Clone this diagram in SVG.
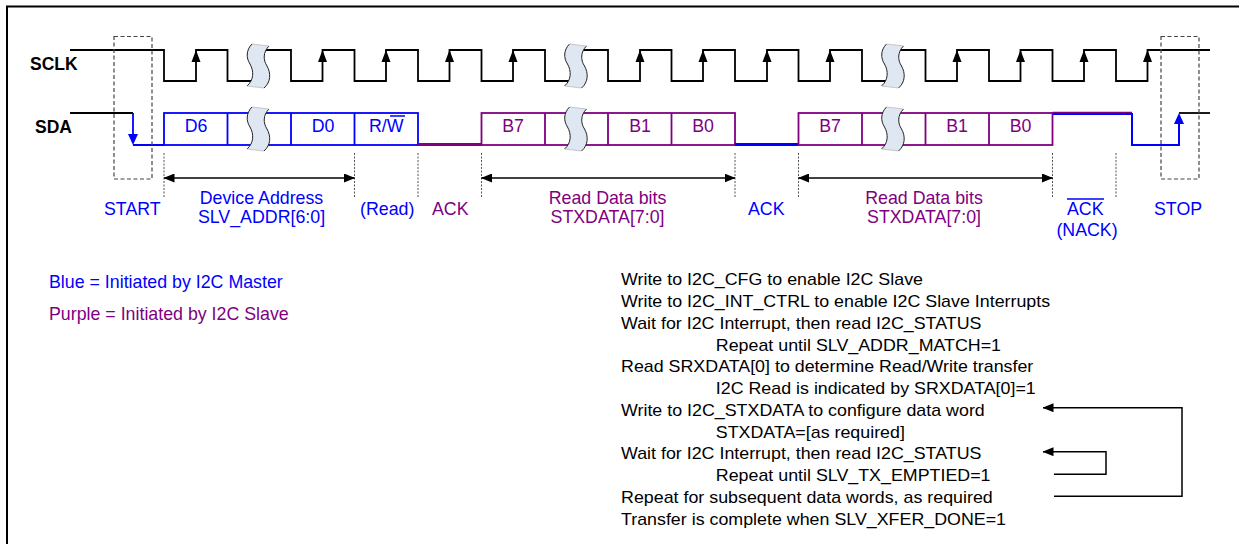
<svg xmlns="http://www.w3.org/2000/svg" width="1239" height="544" viewBox="0 0 1239 544">
<style>
text{font-family:"Liberation Sans",Arial,sans-serif;}
.lbl{font-size:17.8px;}
.b{fill:#0000ff}
.p{fill:#800080}
.bold{font-weight:bold;font-size:17.5px;fill:#000}
.clk{fill:none;stroke:#000;stroke-width:1.8}
.sb{fill:none;stroke:#0000ff;stroke-width:1.8}
.sp{fill:none;stroke:#800080;stroke-width:1.8}
.dash{stroke:#555;stroke-width:1;stroke-dasharray:2 1.5}
.dbox{fill:none;stroke:#444;stroke-width:1.2;stroke-dasharray:4 2.5}
.mid{text-anchor:middle}
.note{font-size:16px;fill:#000}
.conn{fill:none;stroke:#000;stroke-width:1.5}
</style>
<defs>
<marker id="ah" viewBox="0 0 11 9" refX="10.5" refY="4.5" markerWidth="11" markerHeight="9" markerUnits="userSpaceOnUse" orient="auto-start-reverse"><path d="M0,0 L11,4.5 L0,9 Z" fill="#000"/></marker>
<path id="up" d="M0,0 L-4.5,12 L4.5,12 Z" fill="#000"/>
<g id="sq">
<path d="M0,0 L17,2 C11,8 11,16 15,22 C19,29 19,38 12,44 L-5,42 C2,36 2,27 -2,20 C-6,14 -6,6 0,0 Z" fill="#dfe7f2"/>
<path d="M0,0 C-6,6 -6,14 -2,20 C2,27 2,36 -5,42 M17,2 C11,8 11,16 15,22 C19,29 19,38 12,44" fill="none" stroke="#222" stroke-width="1"/>
<path d="M0,0 L17,2 M-5,42 L12,44" stroke="#bbb" stroke-width="0.8"/>
</g>
</defs>

<g id="frame" fill="none" stroke="#000" stroke-width="2">
<path d="M7,544 V6.5 H1239"/>
</g>

<g id="sclk">
<text class="bold" x="30" y="70">SCLK</text>
<path class="clk" d="M70,50 H164 V81 H196 V50 H227.5 V81 H259 V50 H291 V81 H322.5 V50 H354.5 V81 H386 V50 H418 V81 H449.5 V50 H481.5 V81 H513 V50 H545 V81 H576.5 V50 H608 V81 H640 V50 H671.5 V81 H703 V50 H735 V81 H767 V50 H798.5 V81 H830 V50 H862 V81 H893.5 V50 H925.5 V81 H957 V50 H989 V81 H1020.5 V50 H1052.5 V81 H1084 V50 H1116 V81 H1147.5 V50 H1210"/>
<use href="#up" x="196" y="50"/>
<use href="#up" x="322.5" y="50"/>
<use href="#up" x="386" y="50"/>
<use href="#up" x="449.5" y="50"/>
<use href="#up" x="513" y="50"/>
<use href="#up" x="640" y="50"/>
<use href="#up" x="703" y="50"/>
<use href="#up" x="767" y="50"/>
<use href="#up" x="830" y="50"/>
<use href="#up" x="957" y="50"/>
<use href="#up" x="1020.5" y="50"/>
<use href="#up" x="1084" y="50"/>
<use href="#up" x="1147.5" y="50"/>
<use href="#sq" x="252" y="44"/>
<use href="#sq" x="569.5" y="44"/>
<use href="#sq" x="886.5" y="44"/>
</g>

<g id="sda">
<text class="bold" x="35" y="132.5">SDA</text>
<path d="M70,113 H133" fill="none" stroke="#000" stroke-width="1.8"/>
<path class="sb" d="M133,113 V136 M133,145 H164"/>
<path d="M128,134 L138,134 L133,145 Z" fill="#0000ff"/>
<rect class="sb" x="164" y="113" width="254" height="32"/>
<path class="sb" d="M227.5,113 V145 M291,113 V145 M354.5,113 V145"/>
<path d="M418,144.5 H481.5" fill="none" stroke="#800080" stroke-width="3"/>
<rect class="sp" x="481.5" y="113" width="253.5" height="32"/>
<path class="sp" d="M545,113 V145 M608,113 V145 M671.5,113 V145"/>
<path d="M735,144.5 H798.5" fill="none" stroke="#0000ff" stroke-width="3"/>
<rect class="sp" x="798.5" y="113" width="254" height="32"/>
<path class="sp" d="M862,113 V145 M925.5,113 V145 M989,113 V145"/>
<path d="M1052.5,112.3 H1132" fill="none" stroke="#800080" stroke-width="1.3"/>
<path d="M1052.5,114 H1132 V145 H1179 V123" fill="none" stroke="#0000ff" stroke-width="2"/>
<path d="M1174,124 L1184,124 L1179,113 Z" fill="#0000ff"/>
<path d="M1179,113 H1210" fill="none" stroke="#000" stroke-width="1.8"/>
<use href="#sq" x="252" y="107"/>
<use href="#sq" x="569.5" y="107"/>
<use href="#sq" x="886.5" y="107"/>
<g class="lbl mid">
<text class="b" x="196" y="132">D6</text>
<text class="b" x="323" y="132">D0</text>
<text class="b" x="369" y="132" style="text-anchor:start">R/W</text>
<text class="p" x="513" y="132">B7</text>
<text class="p" x="640" y="132">B1</text>
<text class="p" x="703" y="132">B0</text>
<text class="p" x="830" y="132">B7</text>
<text class="p" x="957" y="132">B1</text>
<text class="p" x="1020.5" y="132">B0</text>
</g>
<path d="M390,116 H405" stroke="#0000ff" stroke-width="1.5"/>
</g>

<g id="start-box"><rect class="dbox" x="114" y="36.5" width="38" height="142.5"/></g>
<g id="stop-box"><rect class="dbox" x="1161" y="36.5" width="38" height="142.5"/></g>

<g id="connectors">
<path class="dash" d="M164,153 V197 M354.5,153 V197 M418,153 V197 M481.5,153 V197 M735,153 V197 M798.5,153 V197 M1052.5,153 V197 M1116,153 V197"/>
<path class="conn" d="M164,178 H354.5" marker-start="url(#ah)" marker-end="url(#ah)"/>
<path class="conn" d="M481.5,178 H735" marker-start="url(#ah)" marker-end="url(#ah)"/>
<path class="conn" d="M798.5,178 H1052.5" marker-start="url(#ah)" marker-end="url(#ah)"/>
<path class="conn" d="M1054,496.3 H1182 V407.7 H1043" marker-end="url(#ah)"/>
<path class="conn" d="M1054,474.3 H1106 V451.7 H1043" marker-end="url(#ah)"/>
</g>

<g id="labels" class="lbl">
<text class="b" x="104" y="215">START</text>
<text class="b mid" x="261.5" y="204">Device Address</text>
<text class="b mid" x="261.5" y="222.5">SLV_ADDR[6:0]</text>
<text class="b" x="360" y="215">(Read)</text>
<text class="p" x="432" y="215">ACK</text>
<text class="p mid" x="607.5" y="204">Read Data bits</text>
<text class="p mid" x="607.5" y="222.5">STXDATA[7:0]</text>
<text class="b" x="748" y="215">ACK</text>
<text class="p mid" x="924" y="204">Read Data bits</text>
<text class="p mid" x="924" y="222.5">STXDATA[7:0]</text>
<text class="b" x="1067" y="215">ACK</text>
<path d="M1067,199 H1104" stroke="#0000ff" stroke-width="1.5"/>
<text class="b mid" x="1087" y="236">(NACK)</text>
<text class="b" x="1154" y="215">STOP</text>
</g>

<g id="legend" style="font-size:17.8px">
<text class="b" x="49" y="288">Blue = Initiated by I2C Master</text>
<text class="p" x="49" y="320">Purple = Initiated by I2C Slave</text>
</g>

<g id="steps" class="note" transform="translate(621 0) scale(1.115 1)">
<text x="0" y="285.5">Write to I2C_CFG to enable I2C Slave</text>
<text x="0" y="307.25">Write to I2C_INT_CTRL to enable I2C Slave Interrupts</text>
<text x="0" y="329">Wait for I2C Interrupt, then read I2C_STATUS</text>
<text x="85" y="350.75">Repeat until SLV_ADDR_MATCH=1</text>
<text x="0" y="372.5">Read SRXDATA[0] to determine Read/Write transfer</text>
<text x="85" y="394.25">I2C Read is indicated by SRXDATA[0]=1</text>
<text x="0" y="416">Write to I2C_STXDATA to configure data word</text>
<text x="85" y="437.75">STXDATA=[as required]</text>
<text x="0" y="459.5">Wait for I2C Interrupt, then read I2C_STATUS</text>
<text x="85" y="481.25">Repeat until SLV_TX_EMPTIED=1</text>
<text x="0" y="503">Repeat for subsequent data words, as required</text>
<text x="0" y="524.75">Transfer is complete when SLV_XFER_DONE=1</text>
</g>
</svg>
